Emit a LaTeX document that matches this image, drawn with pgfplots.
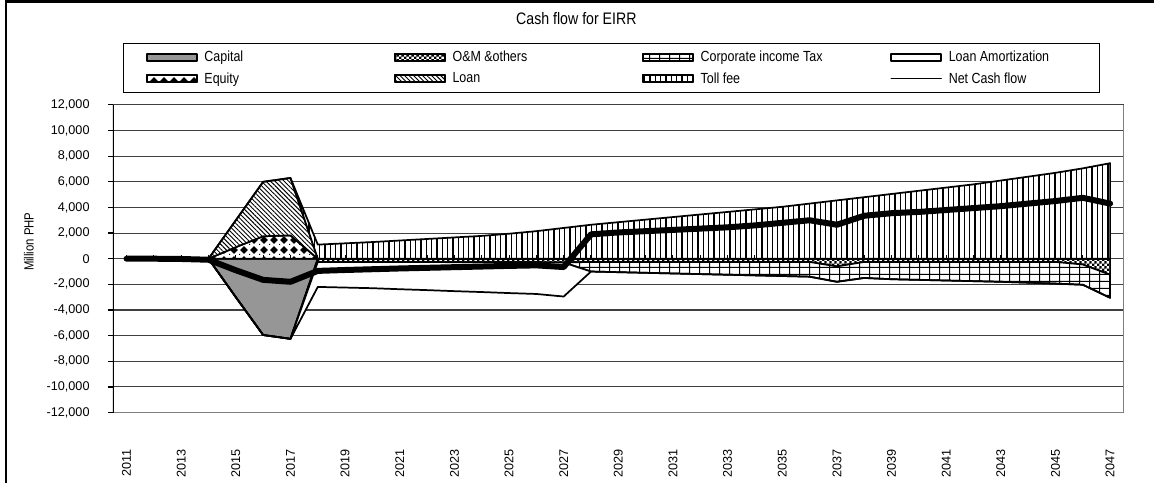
\documentclass[border=0pt]{standalone}
\usepackage{pgfplots}
\pgfplotsset{compat=1.18}
\usepackage{pgfplotstable}
\usepgfplotslibrary{fillbetween}
\usetikzlibrary{patterns,patterns.meta}
\usepackage{fontspec}
\setmainfont{Liberation Sans}
\newfontfamily\narrowfont{Liberation Sans}[FakeStretch=0.85]

\pgfdeclarepatternformonly{eqdiamonds}{\pgfqpoint{0bp}{0bp}}{\pgfqpoint{7.5bp}{7.5bp}}{\pgfqpoint{7.5bp}{7.5bp}}{%
  \pgfpathmoveto{\pgfqpoint{3.75bp}{0.9bp}}%
  \pgfpathlineto{\pgfqpoint{6.6bp}{3.75bp}}%
  \pgfpathlineto{\pgfqpoint{3.75bp}{6.6bp}}%
  \pgfpathlineto{\pgfqpoint{0.9bp}{3.75bp}}%
  \pgfpathclose
  \pgfpathrectangle{\pgfqpoint{0bp}{0bp}}{\pgfqpoint{0.8bp}{0.8bp}}%
  \pgfusepath{fill}}
\pgfdeclarepatternformonly{omchecker}{\pgfqpoint{0bp}{0bp}}{\pgfqpoint{4bp}{4bp}}{\pgfqpoint{4bp}{4bp}}{%
  \pgfpathrectangle{\pgfqpoint{0bp}{0bp}}{\pgfqpoint{2bp}{2bp}}%
  \pgfpathrectangle{\pgfqpoint{2bp}{2bp}}{\pgfqpoint{2bp}{2bp}}%
  \pgfusepath{fill}}
\pgfdeclarepatternformonly{taxgrid}{\pgfqpoint{0bp}{0bp}}{\pgfqpoint{7.5bp}{5.25bp}}{\pgfqpoint{7.5bp}{5.25bp}}{%
  \pgfpathrectangle{\pgfqpoint{0bp}{0bp}}{\pgfqpoint{7.5bp}{0.8bp}}%
  \pgfpathrectangle{\pgfqpoint{0bp}{0bp}}{\pgfqpoint{0.8bp}{5.25bp}}%
  \pgfusepath{fill}}

\pgfplotsset{
  legarea/.style={legend image code/.code={\draw[##1] (0bp,-2.6bp) rectangle (37.5bp,2.6bp);}},
  areaborder/.style={draw=black, line width=1.3bp, line join=round},
}

% cumulative boundaries of the stacked areas (Million PHP)
\pgfplotstableread{
year z cap om tax amo eq loan toll net
2011 0 0 0 0 0 0 0 0 0
2012 0 0 0 0 0 0 0 0 0
2013 0 0 0 0 0 0 0 0 -20
2014 0 0 0 0 0 0 0 0 -80
2015 0 -3000 -3000 -3000 -3000 900 3000 3000 -900
2016 0 -5950 -5950 -5950 -5950 1750 6000 6000 -1650
2017 0 -6250 -6250 -6250 -6250 1820 6300 6300 -1800
2018 0 0 -250 -250 -2200 0 0 1100 -950
2019 0 0 -250 -250 -2250 0 0 1200 -880
2020 0 0 -250 -250 -2300 0 0 1300 -820
2021 0 0 -260 -260 -2380 0 0 1420 -760
2022 0 0 -260 -260 -2450 0 0 1540 -710
2023 0 0 -270 -270 -2530 0 0 1660 -660
2024 0 0 -270 -270 -2600 0 0 1780 -610
2025 0 0 -280 -280 -2680 0 0 1950 -560
2026 0 0 -280 -280 -2750 0 0 2150 -520
2027 0 0 -300 -300 -2950 0 0 2400 -650
2028 0 0 -250 -1000 -1000 0 0 2650 1900
2029 0 0 -250 -1050 -1050 0 0 2850 2050
2030 0 0 -250 -1100 -1100 0 0 3050 2150
2031 0 0 -250 -1150 -1150 0 0 3250 2250
2032 0 0 -250 -1200 -1200 0 0 3450 2350
2033 0 0 -250 -1250 -1250 0 0 3650 2450
2034 0 0 -250 -1300 -1300 0 0 3850 2600
2035 0 0 -250 -1350 -1350 0 0 4050 2800
2036 0 0 -250 -1400 -1400 0 0 4300 3000
2037 0 0 -600 -1800 -1800 0 0 4550 2650
2038 0 0 -250 -1500 -1500 0 0 4800 3350
2039 0 0 -250 -1600 -1600 0 0 5050 3550
2040 0 0 -250 -1650 -1650 0 0 5300 3650
2041 0 0 -250 -1700 -1700 0 0 5550 3800
2042 0 0 -250 -1750 -1750 0 0 5800 3950
2043 0 0 -250 -1800 -1800 0 0 6100 4100
2044 0 0 -250 -1870 -1870 0 0 6400 4300
2045 0 0 -250 -1940 -1940 0 0 6700 4500
2046 0 0 -450 -2030 -2030 0 0 7050 4750
2047 0 0 -1250 -3050 -3050 0 0 7450 4300
}\cf

\begin{document}
\begin{tikzpicture}
\path (0,0) rectangle (866.25bp,363bp);
\draw[line width=1.9bp] (4.5bp,0) -- (4.5bp,362bp) -- (866.25bp,362bp);
\node[font=\narrowfont\fontsize{12.5bp}{14bp}\selectfont] at (432.75bp,348.75bp) {Cash flow for EIRR};
\node[rotate=90, font=\narrowfont\fontsize{10bp}{12bp}\selectfont] at (21.75bp,181.5bp) {Million PHP};
\begin{axis}[
  at={(84.75bp,53.25bp)}, anchor=south west,
  scale only axis, width=759bp, height=231bp,
  xmin=2010.5, xmax=2047.5, ymin=-12000, ymax=12000,
  xtick={2011,2013,...,2047},
  ytick={-12000,-10000,...,12000},
  scaled x ticks=false, scaled y ticks=false,
  xtick pos=bottom, ytick pos=left,
  xtick style={draw=none},
  ytick style={black, line width=0.9bp},
  major tick length=4bp, tick align=outside,
  ymajorgrids,
  major grid style={black!75, line width=0.8bp},
  axis line style={draw=none},
  /pgf/number format/assume math mode=true,
  ticklabel style={font=\fontsize{9.5bp}{11bp}\selectfont},
  xticklabel style={rotate=90, anchor=east, /pgf/number format/1000 sep={}},
  yticklabel style={/pgf/number format/1000 sep={,}},
  xticklabel shift=20bp,
  yticklabel shift=10bp,
  legend columns=4,
  legend cell align=left,
  legend style={at={(0.0099,1.2013)}, anchor=north west, draw=black, line width=0.9bp,
    font=\narrowfont\fontsize{11bp}{13bp}\selectfont,
    inner xsep=17bp, inner ysep=3.8bp, row sep=2.5bp,
    /tikz/every even column/.append style={column sep=2bp}},
]
\addplot[draw=none, name path=z, forget plot] table[x=year,y=z]{\cf};
\addplot[draw=none, name path=cap, forget plot] table[x=year,y=cap]{\cf};
\addplot[draw=none, name path=om, forget plot] table[x=year,y=om]{\cf};
\addplot[draw=none, name path=tax, forget plot] table[x=year,y=tax]{\cf};
\addplot[draw=none, name path=amo, forget plot] table[x=year,y=amo]{\cf};
\addplot[draw=none, name path=eq, forget plot] table[x=year,y=eq]{\cf};
\addplot[draw=none, name path=loan, forget plot] table[x=year,y=loan]{\cf};
\addplot[draw=none, name path=toll, forget plot] table[x=year,y=toll]{\cf};

\addplot[areaborder, fill=black!41, legarea] fill between[of=z and cap];
\addlegendentry{\makebox[141.5bp][l]{\hspace{3bp}Capital}}
\addplot[areaborder, fill=white, postaction={pattern=omchecker}, legarea] fill between[of=cap and om];
\addlegendentry{\makebox[141.5bp][l]{\hspace{3bp}O\&M \&others}}
\addplot[areaborder, fill=white, postaction={pattern=taxgrid}, legarea] fill between[of=om and tax];
\addlegendentry{\makebox[141.5bp][l]{\hspace{3bp}Corporate income Tax}}
\addplot[areaborder, fill=white, legarea] fill between[of=tax and amo];
\addlegendentry{\makebox[97bp][l]{\hspace{3bp}Loan Amortization}}
\addplot[areaborder, fill=white, postaction={pattern=eqdiamonds}, legarea] fill between[of=z and eq];
\addlegendentry{\makebox[141.5bp][l]{\hspace{3bp}Equity}}
\addplot[areaborder, fill=white, postaction={pattern={Lines[angle=-45,distance=2.4bp,line width=0.7bp]}}, legarea] fill between[of=eq and loan];
\addlegendentry{\makebox[141.5bp][l]{\hspace{3bp}Loan}}
\addplot[areaborder, fill=white, postaction={pattern={Lines[angle=90,distance=4bp,line width=1bp]}}, legarea] fill between[of=loan and toll];
\addlegendentry{\makebox[141.5bp][l]{\hspace{3bp}Toll fee}}
\addplot[black, line width=4.5bp, line cap=round, line join=round,
  legend image code/.code={\draw[black, line width=1bp] (0bp,0bp) -- (37.5bp,0bp);}]
  table[x=year,y=net]{\cf};
\addlegendentry{\makebox[97bp][l]{\hspace{3bp}Net Cash flow}}

\draw[black!50, line width=1.3bp] (rel axis cs:0,0) -- (rel axis cs:1,0) -- (rel axis cs:1,1);
\draw[black, line width=1.1bp] (rel axis cs:0,0) -- (rel axis cs:0,1);
\end{axis}
\begin{axis}[
  at={(84.75bp,53.25bp)}, anchor=south west,
  scale only axis, width=759bp, height=231bp,
  xmin=2010.5, xmax=2047.5, ymin=-12000, ymax=12000,
  axis x line=middle, axis y line=none,
  x axis line style={draw=none},
  xtick={2011,2012,...,2047}, xticklabels={},
  xtick style={black, line width=0.75bp},
  major tick length=3bp, xtick align=inside,
]
\addplot[draw=none, forget plot] coordinates {(2011,0) (2047,0)};
\end{axis}
\end{tikzpicture}
\end{document}
